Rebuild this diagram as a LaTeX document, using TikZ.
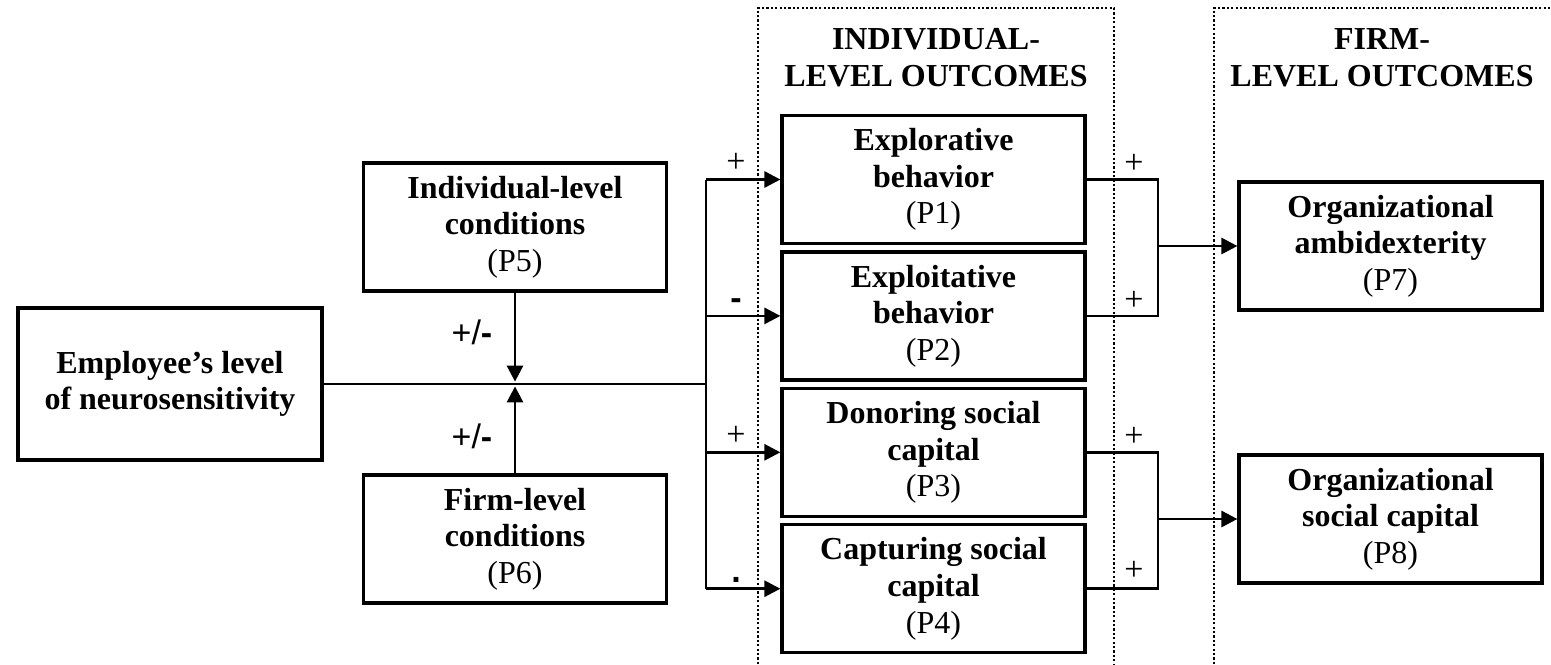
\documentclass[tikz,border=0pt]{standalone}
\usepackage{fontspec}
\setmainfont{Liberation Serif}
\newfontfamily\lblsans{Liberation Sans}
\usetikzlibrary{
  arrows.meta,
  positioning,
  calc
}
\tikzset{
  % Construct box: fixed size, black outline
  cbox/.style={
    rectangle, draw=black, line width=1.6pt,
    minimum width=151.5pt, minimum height=64pt,
    align=center, inner sep=0pt,
    font=\fontsize{16}{18.3}\selectfont
  },
  % Plain connector
  conn/.style={line width=1.4pt},
  % Arrow
  arr/.style={
    -{Triangle[length=8pt,width=8pt]},
    line width=1.4pt
  },
  % Sign label
  sgn/.style={font=\fontsize{17}{18}\selectfont, inner sep=0pt, anchor=base},
  % Dotted outcome frame
  frm/.style={line width=1.3pt, dash pattern=on 1.1pt off 1.1pt},
  % Frame header
  hdr/.style={align=center, font=\bfseries\fontsize{16}{18.5}\selectfont}
}

\begin{document}
\begin{tikzpicture}[x=0.5pt, y=-0.5pt]
  \useasboundingbox (0,0) rectangle (1551,664);

  % Dotted outcome frames, open at the bottom
  \draw[frm] (758,664) -- (758,8) -- (1114,8) -- (1114,664);
  \draw[frm] (1214,664) -- (1214,8) -- (1551,8);
  \node[hdr] (indhdr)  at (936,58)  {INDIVIDUAL-\\LEVEL OUTCOMES};
  \node[hdr] (firmhdr) at (1382,58) {FIRM-\\LEVEL OUTCOMES};

  % Predictor and moderators
  \node[cbox, minimum width=152pt, minimum height=76pt] (emp) at (170,384)
    {\textbf{Employee’s level}\\\textbf{of neurosensitivity}};
  \node[cbox] (indc)  at (515,227) {\textbf{Individual-level}\\\textbf{conditions}\\(P5)};
  \node[cbox] (firmc) at (515,539) {\textbf{Firm-level}\\\textbf{conditions}\\(P6)};

  % Individual-level outcomes
  \node[cbox] (expl) at (933.5,179.5) {\textbf{Explorative}\\\textbf{behavior}\\(P1)};
  \node[cbox, below=2.6pt of expl] (expt) {\textbf{Exploitative}\\\textbf{behavior}\\(P2)};
  \node[cbox, below=2.6pt of expt] (donor) {\textbf{Donoring social}\\\textbf{capital}\\(P3)};
  \node[cbox, below=2.6pt of donor] (captr) {\textbf{Capturing social}\\\textbf{capital}\\(P4)};

  % Firm-level outcomes
  \node[cbox] (ambi) at (1390.5,246) {\textbf{Organizational}\\\textbf{ambidexterity}\\(P7)};
  \node[cbox] (osc)  at (1390.5,519) {\textbf{Organizational}\\\textbf{social capital}\\(P8)};

  % Main path and moderation
  \coordinate (mod) at (515,384);
  \coordinate (bus) at (706,384);
  \draw[conn] (emp.east) -- (bus);
  \draw[arr] (indc.south) -- ([yshift=1.2pt]mod);
  \draw[arr] (firmc.north) -- ([yshift=-1.2pt]mod);
  \node[sgn] (mu) at (472,344) {\lblsans +/\textbf{-}};
  \node[sgn] (ml) at (472,448) {\lblsans +/\textbf{-}};

  % Fan out to the individual-level outcomes
  \draw[conn] (bus |- expl.west) -- (bus |- captr.west);
  \draw[arr] (bus |- expl.west)  -- (expl.west);
  \draw[arr] (bus |- expt.west)  -- (expt.west);
  \draw[arr] (bus |- donor.west) -- (donor.west);
  \draw[arr] (bus |- captr.west) -- (captr.west);
  \node[sgn] (s1) at (736,172) {+};
  \node[sgn] (s2) at (736,309) {\lblsans\bfseries -};
  \node[sgn] (s3) at (736,445) {+};
  \node[sgn] (s4) at (736,582) {\lblsans\bfseries .};

  % Merge into the firm-level outcomes
  \coordinate (ja) at (1158,246);
  \coordinate (jb) at (1158,519);
  \draw[conn] (expl.east) -| (ja) |- (expt.east);
  \draw[conn] (donor.east) -| (jb) |- (captr.east);
  \draw[arr] (ja) -- (ambi.west);
  \draw[arr] (jb) -- (osc.west);
  \node[sgn] (r1) at (1134,173) {+};
  \node[sgn] (r2) at (1134,310) {+};
  \node[sgn] (r3) at (1134,446) {+};
  \node[sgn] (r4) at (1134,580) {+};
\end{tikzpicture}
\end{document}
